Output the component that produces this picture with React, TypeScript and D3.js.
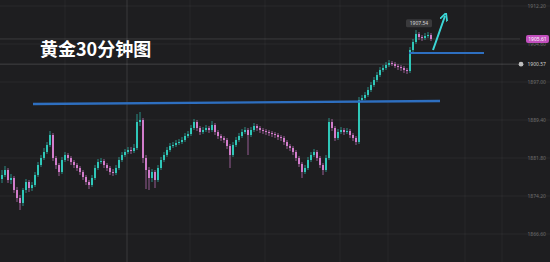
import React from "react";
import * as d3 from "d3";

const W = 550;
const H = 262;

const closes = [
  1878.4, 1879.4, 1877.4, 1877.8, 1875.4, 1873.8, 1872.8, 1875.4, 1877.0, 1875.8,
  1876.4, 1878.4, 1880.4, 1881.8, 1883.0, 1884.4, 1886.4, 1881.8, 1880.4, 1879.0,
  1881.4, 1882.4, 1881.8, 1881.0, 1880.4, 1879.8, 1879.0, 1878.0, 1877.0, 1876.4,
  1877.8, 1879.8, 1881.0, 1881.2, 1880.4, 1879.8, 1879.0, 1878.8, 1879.8, 1881.4,
  1882.4, 1883.0, 1883.4, 1883.2, 1883.8, 1889.0, 1889.4, 1881.8, 1879.4, 1877.8,
  1879.0, 1877.4, 1879.8, 1881.4, 1882.4, 1883.4, 1884.2, 1884.4, 1884.8, 1885.0,
  1885.4, 1886.2, 1886.6, 1887.8, 1889.0, 1887.8, 1887.0, 1887.4, 1887.8, 1887.4,
  1888.4, 1887.0, 1886.2, 1885.8, 1885.4, 1884.2, 1882.4, 1884.4, 1885.4, 1886.2,
  1887.0, 1887.4, 1886.4, 1887.4, 1888.2, 1887.8, 1887.4, 1887.2, 1887.0, 1886.8,
  1886.6, 1886.4, 1886.0, 1885.8, 1885.0, 1884.2, 1883.8, 1883.0, 1881.8, 1880.6,
  1879.0, 1879.8, 1881.4, 1882.4, 1883.0, 1881.8, 1880.4, 1879.4, 1881.8, 1889.0,
  1887.8, 1885.8, 1887.0, 1887.4, 1887.0, 1887.2, 1886.4, 1885.8, 1885.0, 1893.4,
  1893.8, 1894.4, 1895.4, 1896.4, 1897.4, 1898.4, 1899.4, 1899.8, 1900.4, 1900.8,
  1900.6, 1900.2, 1900.0, 1899.8, 1899.4, 1899.2, 1903.4, 1905.0, 1906.6, 1906.0,
  1905.8, 1906.2, 1906.4, 1905.6,
];

const opens = [
  1877.6, 1878.4, 1879.4, 1877.4, 1877.8, 1875.4, 1873.8, 1872.8, 1875.4, 1877.0,
  1875.8, 1876.4, 1878.4, 1880.4, 1881.8, 1883.0, 1884.4, 1886.4, 1881.8, 1880.4,
  1879.0, 1881.4, 1882.4, 1881.8, 1881.0, 1880.4, 1879.8, 1879.0, 1878.0, 1877.0,
  1876.4, 1877.8, 1879.8, 1881.0, 1881.2, 1880.4, 1879.8, 1879.0, 1878.8, 1879.8,
  1881.4, 1882.4, 1883.0, 1883.4, 1883.2, 1883.8, 1889.0, 1889.4, 1881.8, 1879.4,
  1877.8, 1879.0, 1877.4, 1879.8, 1881.4, 1882.4, 1883.4, 1884.2, 1884.4, 1884.8,
  1885.0, 1885.4, 1886.2, 1886.6, 1887.8, 1889.0, 1887.8, 1887.0, 1887.4, 1887.8,
  1887.4, 1888.4, 1887.0, 1886.2, 1885.8, 1885.4, 1884.2, 1882.4, 1884.4, 1885.4,
  1886.2, 1887.0, 1887.4, 1886.4, 1887.4, 1888.2, 1887.8, 1887.4, 1887.2, 1887.0,
  1886.8, 1886.6, 1886.4, 1886.0, 1885.8, 1885.0, 1884.2, 1883.8, 1883.0, 1881.8,
  1880.6, 1879.0, 1879.8, 1881.4, 1882.4, 1883.0, 1881.8, 1880.4, 1879.4, 1881.8,
  1889.0, 1887.8, 1885.8, 1887.0, 1887.4, 1887.0, 1887.2, 1886.4, 1885.8, 1885.0,
  1893.4, 1893.8, 1894.4, 1895.4, 1896.4, 1897.4, 1898.4, 1899.4, 1899.8, 1900.4,
  1900.8, 1900.6, 1900.2, 1900.0, 1899.8, 1899.4, 1899.2, 1903.4, 1905.0, 1906.6,
  1906.0, 1905.8, 1906.2, 1906.4,
];

const highs = [
  1879.4, 1880.2, 1879.8, 1878.6, 1878.2, 1876.0, 1874.4, 1875.8, 1877.6, 1877.4,
  1877.0, 1879.0, 1881.0, 1882.4, 1883.8, 1885.0, 1887.2, 1886.8, 1882.2, 1880.8,
  1882.0, 1883.0, 1882.8, 1882.2, 1881.4, 1880.8, 1880.2, 1879.4, 1878.4, 1877.4,
  1878.4, 1880.4, 1881.6, 1881.8, 1881.6, 1880.8, 1880.2, 1879.6, 1880.4, 1882.0,
  1883.0, 1883.6, 1884.0, 1884.0, 1884.6, 1890.6, 1891.0, 1889.8, 1882.4, 1880.0,
  1879.6, 1879.4, 1880.4, 1882.0, 1883.0, 1884.0, 1884.8, 1885.0, 1885.4, 1885.6,
  1886.0, 1886.8, 1887.2, 1888.4, 1889.6, 1889.4, 1888.2, 1888.0, 1888.4, 1888.2,
  1889.2, 1888.8, 1887.4, 1886.6, 1886.2, 1885.8, 1884.6, 1885.0, 1886.0, 1886.8,
  1887.6, 1888.0, 1887.8, 1888.0, 1888.8, 1888.6, 1888.2, 1887.8, 1887.6, 1887.4,
  1887.2, 1887.0, 1886.8, 1886.4, 1886.2, 1885.4, 1884.6, 1884.2, 1883.4, 1882.2,
  1881.0, 1880.4, 1882.0, 1883.0, 1883.6, 1883.4, 1882.2, 1880.8, 1882.4, 1889.8,
  1889.6, 1888.2, 1887.6, 1888.0, 1887.8, 1887.8, 1887.6, 1886.8, 1886.2, 1894.0,
  1894.4, 1895.0, 1896.0, 1897.0, 1898.0, 1899.0, 1900.0, 1900.4, 1901.0, 1901.4,
  1901.2, 1901.0, 1900.6, 1900.4, 1900.2, 1899.8, 1904.0, 1905.6, 1907.4, 1907.0,
  1906.4, 1906.8, 1907.0, 1906.8,
];

const lows = [
  1876.8, 1878.0, 1876.8, 1876.6, 1874.8, 1873.0, 1871.4, 1872.2, 1874.8, 1875.0,
  1875.2, 1876.0, 1878.0, 1880.0, 1881.4, 1882.6, 1884.0, 1881.2, 1879.6, 1878.2,
  1878.6, 1881.0, 1881.2, 1880.4, 1879.8, 1879.2, 1878.4, 1877.4, 1876.4, 1875.6,
  1876.0, 1877.4, 1879.4, 1880.6, 1879.8, 1879.2, 1878.4, 1878.2, 1878.4, 1879.4,
  1881.0, 1882.0, 1882.6, 1882.6, 1882.8, 1883.4, 1888.2, 1880.8, 1875.6, 1875.4,
  1877.0, 1875.8, 1877.0, 1879.4, 1881.0, 1882.0, 1883.0, 1883.8, 1884.0, 1884.4,
  1884.6, 1885.0, 1885.8, 1886.2, 1887.4, 1887.2, 1886.4, 1886.6, 1887.0, 1886.8,
  1887.0, 1886.4, 1885.6, 1885.2, 1884.8, 1883.6, 1879.8, 1882.0, 1884.0, 1885.0,
  1885.8, 1886.6, 1882.4, 1886.0, 1887.0, 1887.2, 1886.8, 1886.6, 1886.4, 1886.2,
  1886.0, 1885.8, 1885.4, 1885.2, 1884.4, 1883.6, 1883.2, 1882.4, 1881.2, 1880.0,
  1877.8, 1878.6, 1879.4, 1881.0, 1882.0, 1881.2, 1879.8, 1878.4, 1879.0, 1881.4,
  1887.2, 1885.2, 1885.4, 1886.6, 1886.4, 1886.6, 1885.8, 1885.2, 1884.4, 1884.6,
  1893.0, 1893.4, 1894.0, 1895.0, 1896.0, 1897.0, 1898.0, 1899.0, 1899.4, 1900.0,
  1900.2, 1899.8, 1899.4, 1899.2, 1898.8, 1898.6, 1898.8, 1903.0, 1904.6, 1905.4,
  1905.2, 1905.4, 1905.8, 1905.2,
];

const axisTicks = [1912.2, 1904.6, 1897.0, 1889.4, 1881.8, 1874.2, 1866.6];
const lastPrice = 1905.61;
const bidPrice = 1900.57;
const highLabel = 1907.54;
const supportLong = [1892.6, 1893.2];
const supportShort = 1902.8;
const title = "黄金30分钟图";

const UP = "#2fc7b8";
const DOWN = "#d27ccb";

export default function App() {
  const n = closes.length;
  const x = d3.scaleLinear().domain([0, n - 1]).range([2, 431]);
  const y = d3.scaleLinear().domain([1913.4, 1861.0]).range([0, H]);

  const vGrid = [65, 127, 190, 265, 340, 388, 465, 502];

  const arrowStart = [433, 50];
  const arrowEnd = [445, 16];

  return (
    <svg
      width={W}
      height={H}
      style={{ position: "fixed", left: 0, top: 0, display: "block" }}
      fontFamily="'Noto Sans', sans-serif"
    >
      <defs>
        <marker id="ah" viewBox="0 0 10 10" refX="6" refY="5" markerWidth="4" markerHeight="4" orient="auto">
          <path d="M0,0 L10,5 L0,10" fill="none" stroke="#3cd6d6" strokeWidth="2.2" />
        </marker>
      </defs>
      <rect width={W} height={H} fill="#1e1e20" />
      {axisTicks.map((t) => (
        <line key={"h" + t} x1={0} x2={W} y1={y(t)} y2={y(t)} stroke="#ffffff" strokeOpacity={0.05} />
      ))}
      {vGrid.map((v) => (
        <line
          key={"v" + v}
          x1={v}
          x2={v}
          y1={0}
          y2={H}
          stroke="#ffffff"
          strokeOpacity={v === 127 ? 0.12 : 0.045}
        />
      ))}
      <line x1={0} x2={520} y1={y(lastPrice)} y2={y(lastPrice)} stroke="#ffffff" strokeOpacity={0.13} />
      <line x1={0} x2={518} y1={y(bidPrice)} y2={y(bidPrice)} stroke="#ffffff" strokeOpacity={0.16} />

      {closes.map((c, i) => {
        const o = opens[i];
        const up = c >= o;
        const col = up ? UP : DOWN;
        const cx = x(i);
        const top = y(Math.max(o, c));
        const bot = y(Math.min(o, c));
        return (
          <g key={i}>
            <line x1={cx} x2={cx} y1={y(highs[i])} y2={y(lows[i])} stroke={col} strokeWidth={0.8} strokeOpacity={0.85} />
            <rect x={cx - 1} y={top} width={2} height={Math.max(1, bot - top)} fill={col} />
          </g>
        );
      })}

      <line x1={33} x2={440} y1={y(supportLong[0])} y2={y(supportLong[1])} stroke="#2e6fc0" strokeWidth={2.4} />
      <line x1={409} x2={484} y1={y(supportShort)} y2={y(supportShort)} stroke="#2e6fc0" strokeWidth={2.2} />
      <line
        x1={arrowStart[0]}
        y1={arrowStart[1]}
        x2={arrowEnd[0]}
        y2={arrowEnd[1]}
        stroke="#3cd6d6"
        strokeWidth={2}
        markerEnd="url(#ah)"
      />

      <rect x={406} y={y(highLabel) - 10} width={26} height={8} rx={1.5} fill="#3a3a3c" />
      <text x={419} y={y(highLabel) - 4} fontSize={5} fill="#d8d8d8" textAnchor="middle">
        {highLabel.toFixed(2)}
      </text>

      <text x={40} y={56} fontSize={18} fontWeight="bold" fill="#ffffff" fontFamily="'Noto Sans CJK SC', sans-serif">
        {title}
      </text>

      {axisTicks.map((t) => (
        <text key={"t" + t} x={546} y={y(t) + 2} fontSize={5} fill="#6c6c6c" textAnchor="end">
          {t.toFixed(2)}
        </text>
      ))}
      <rect x={526} y={y(lastPrice) - 4} width={23} height={8} rx={2} fill="#c24fbd" />
      <text x={537.5} y={y(lastPrice) + 1.8} fontSize={5} fill="#ffffff" textAnchor="middle">
        {lastPrice.toFixed(2)}
      </text>
      <rect x={518} y={y(bidPrice) - 4} width={31} height={8} fill="#1e1e20" />
      <circle cx={521} cy={y(bidPrice)} r={2.4} fill="#bdbdbd" />
      <text x={546} y={y(bidPrice) + 1.8} fontSize={5} fill="#cfcfcf" textAnchor="end">
        {bidPrice.toFixed(2)}
      </text>
    </svg>
  );
}
